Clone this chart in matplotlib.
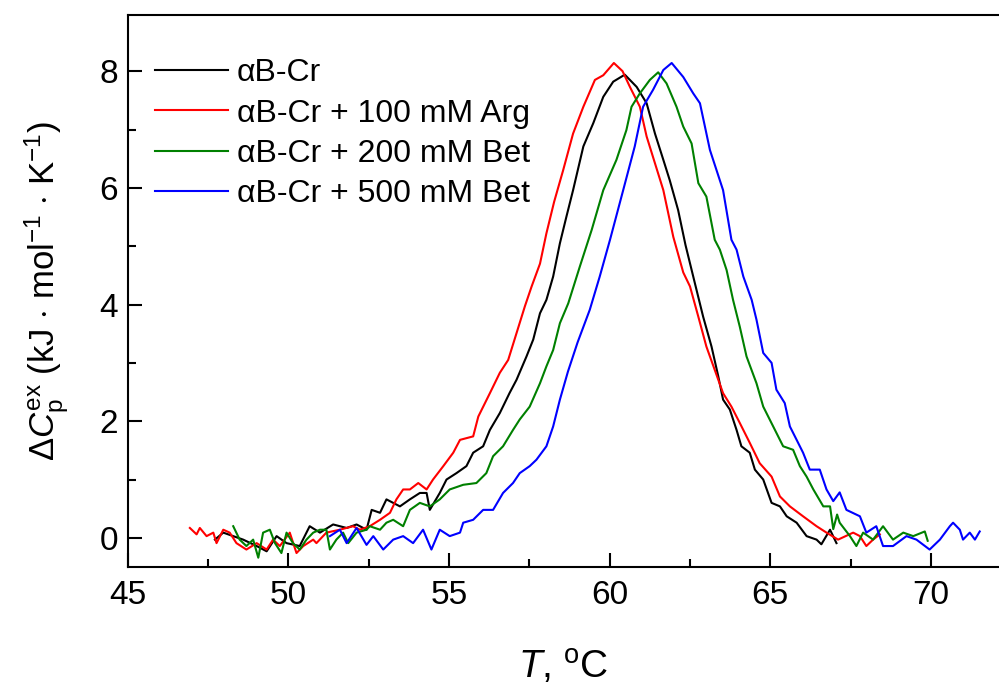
import matplotlib
matplotlib.use("Agg")
import matplotlib.pyplot as plt

# ---------------- data ----------------
black_T = [47.71, 47.97, 48.28, 48.59, 49.01, 49.32, 49.63, 49.94, 50.35, 50.66, 50.98, 51.39,
           51.81, 52.12, 52.43, 52.59, 52.85, 53.05, 53.47, 53.78, 54.09, 54.30, 54.40, 54.71,
           54.92, 55.23, 55.54, 55.75, 56.06, 56.27, 56.58, 56.88, 57.10, 57.41, 57.62, 57.83,
           58.03, 58.24, 58.45, 58.65, 58.86, 59.18, 59.49, 59.80, 60.11, 60.47, 60.84, 61.15,
           61.41, 61.67, 61.87, 62.13, 62.36, 62.65, 62.91, 63.17, 63.38, 63.53, 63.74, 63.95,
           64.10, 64.36, 64.52, 64.78, 65.04, 65.30, 65.51, 65.82, 66.13, 66.44, 66.59, 66.86,
           67.06]
black_dCp = [-0.03, 0.09, 0.03, -0.03, -0.14, -0.23, 0.03, -0.09, -0.14, 0.20, 0.09, 0.23,
             0.17, 0.23, 0.14, 0.48, 0.43, 0.66, 0.54, 0.66, 0.77, 0.77, 0.48, 0.77,
             1.00, 1.11, 1.23, 1.46, 1.57, 1.85, 2.14, 2.48, 2.71, 3.11, 3.40, 3.85,
             4.08, 4.48, 5.05, 5.50, 5.96, 6.71, 7.11, 7.56, 7.82, 7.94, 7.73, 7.45,
             6.93, 6.48, 6.13, 5.62, 5.02, 4.37, 3.79, 3.28, 2.77, 2.37, 2.20, 1.85,
             1.57, 1.46, 1.17, 1.00, 0.60, 0.54, 0.37, 0.26, 0.03, -0.03, -0.11, 0.14,
             -0.09]

red_T = [46.93, 47.14, 47.24, 47.45, 47.66, 47.76, 47.97, 48.17, 48.38, 48.69, 49.01, 49.32,
         49.52, 49.73, 50.04, 50.25, 50.46, 50.77, 50.87, 51.18, 51.60, 52.01, 52.22, 52.53,
         52.85, 53.16, 53.36, 53.57, 53.78, 54.04, 54.30, 54.50, 54.82, 55.13, 55.34, 55.75,
         55.91, 56.27, 56.58, 56.84, 57.10, 57.36, 57.57, 57.83, 58.03, 58.27, 58.55, 58.86,
         59.18, 59.54, 59.80, 60.13, 60.40, 60.63, 60.94, 61.15, 61.41, 61.67, 61.98, 62.29,
         62.50, 62.76, 63.01, 63.27, 63.53, 63.79, 64.05, 64.36, 64.67, 65.04, 65.30, 65.61,
         66.02, 66.44, 66.75, 67.11, 67.58, 67.79, 67.99, 68.20, 68.41]
red_dCp = [0.17, 0.06, 0.17, 0.03, 0.09, -0.09, 0.14, 0.09, -0.09, -0.20, -0.09, -0.20,
           -0.03, -0.14, 0.09, -0.26, -0.14, -0.03, -0.09, 0.09, 0.14, 0.20, 0.14, 0.20,
           0.31, 0.43, 0.66, 0.83, 0.83, 0.94, 0.83, 1.00, 1.23, 1.46, 1.68, 1.74,
           2.08, 2.48, 2.83, 3.05, 3.51, 3.97, 4.31, 4.70, 5.22, 5.76, 6.30, 6.93,
           7.39, 7.85, 7.93, 8.14, 8.00, 7.73, 7.39, 6.88, 6.42, 5.96, 5.16, 4.55,
           4.31, 3.79, 3.28, 2.88, 2.48, 2.25, 1.97, 1.63, 1.28, 1.05, 0.71, 0.54,
           0.37, 0.20, 0.09, -0.03, 0.09, 0.03, -0.14, -0.03, 0.06]

green_T = [48.28, 48.48, 48.69, 48.90, 49.06, 49.21, 49.42, 49.58, 49.78, 49.94, 50.14, 50.35,
           50.56, 50.77, 50.98, 51.18, 51.29, 51.49, 51.70, 51.86, 52.12, 52.43, 52.53, 52.85,
           53.05, 53.26, 53.57, 53.78, 54.09, 54.40, 54.71, 55.02, 55.44, 55.85, 56.16, 56.37,
           56.68, 56.99, 57.20, 57.51, 57.83, 58.03, 58.24, 58.45, 58.71, 59.07, 59.44, 59.80,
           60.21, 60.52, 60.68, 60.94, 61.25, 61.51, 61.77, 62.08, 62.29, 62.55, 62.76, 63.01,
           63.27, 63.43, 63.64, 63.84, 64.05, 64.26, 64.57, 64.78, 65.09, 65.40, 65.71, 65.92,
           66.13, 66.34, 66.65, 66.86, 66.96, 67.08, 67.16, 67.48, 67.68, 67.89, 68.20, 68.51,
           68.82, 69.14, 69.45, 69.81, 69.90]
green_dCp = [0.20, -0.03, -0.14, -0.03, -0.34, 0.09, 0.14, -0.09, -0.26, 0.09, -0.09, -0.20,
             -0.03, 0.09, 0.14, 0.14, -0.20, -0.03, 0.09, -0.09, 0.09, 0.14, 0.20, 0.14,
             0.26, 0.31, 0.20, 0.48, 0.60, 0.54, 0.66, 0.83, 0.91, 0.94, 1.11, 1.40,
             1.57, 1.85, 2.03, 2.25, 2.65, 2.94, 3.22, 3.68, 4.02, 4.65, 5.28, 5.96,
             6.48, 6.99, 7.39, 7.62, 7.85, 7.98, 7.79, 7.39, 7.05, 6.76, 6.08, 5.85,
             5.11, 4.94, 4.59, 4.08, 3.62, 3.11, 2.65, 2.25, 1.91, 1.57, 1.51, 1.23,
             1.05, 0.83, 0.54, 0.54, 0.15, 0.40, 0.26, 0.03, -0.14, 0.09, -0.03, 0.20,
             -0.03, 0.09, 0.03, 0.11, -0.05]

blue_T = [51.29, 51.60, 51.81, 52.12, 52.43, 52.64, 52.95, 53.26, 53.57, 53.88, 54.19, 54.45,
          54.71, 55.02, 55.34, 55.44, 55.75, 56.06, 56.37, 56.68, 56.99, 57.20, 57.51, 57.72,
          58.03, 58.24, 58.45, 58.70, 59.00, 59.38, 59.69, 60.01, 60.42, 60.78, 61.04, 61.35,
          61.67, 61.93, 62.29, 62.60, 62.81, 63.12, 63.53, 63.79, 63.95, 64.16, 64.42, 64.57,
          64.78, 65.04, 65.19, 65.45, 65.61, 65.82, 66.02, 66.23, 66.54, 66.75, 66.96, 67.16,
          67.37, 67.79, 67.99, 68.30, 68.51, 68.82, 69.24, 69.55, 69.96, 70.28, 70.59, 70.69,
          70.90, 71.00, 71.21, 71.37, 71.52]
blue_dCp = [0.03, 0.14, -0.09, 0.17, -0.12, 0.03, -0.20, -0.03, 0.03, -0.09, 0.14, -0.20,
            0.14, 0.03, 0.09, 0.26, 0.31, 0.48, 0.48, 0.77, 0.94, 1.11, 1.23, 1.34,
            1.57, 1.91, 2.37, 2.85, 3.35, 3.91, 4.48, 5.11, 5.96, 6.71, 7.39, 7.68,
            8.02, 8.14, 7.90, 7.62, 7.45, 6.65, 5.96, 5.11, 4.94, 4.48, 4.08, 3.74,
            3.17, 3.00, 2.54, 2.31, 1.91, 1.68, 1.46, 1.17, 1.17, 0.83, 0.63, 0.78,
            0.48, 0.37, 0.09, 0.20, -0.14, -0.14, 0.03, -0.03, -0.20, -0.03, 0.20, 0.26,
            0.14, -0.03, 0.09, -0.03, 0.11]

labels = ["\u03b1B-Cr", "\u03b1B-Cr + 100 mM Arg", "\u03b1B-Cr + 200 mM Bet", "\u03b1B-Cr + 500 mM Bet"]
colors = ["black", "red", "green", "blue"]

x_ticks = [45, 50, 55, 60, 65, 70]
y_ticks = [0, 2, 4, 6, 8]

# ---------------- style ----------------
plt.rcParams["font.family"] = ["Liberation Sans", "DejaVu Sans"]
plt.rcParams["mathtext.fontset"] = "custom"
plt.rcParams["mathtext.rm"] = "Liberation Sans"
plt.rcParams["mathtext.it"] = "Liberation Sans:italic"
plt.rcParams["mathtext.bf"] = "Liberation Sans:bold"

fig = plt.figure(figsize=(9.99, 6.89), dpi=100)
ax = fig.add_axes([0.128, 0.177, 0.872, 0.801])

series = [(black_T, black_dCp), (red_T, red_dCp), (green_T, green_dCp), (blue_T, blue_dCp)]
for (t, v), c, lab in zip(series, colors, labels):
    ax.plot(t, v, color=c, lw=1.5, label=lab)

ax.set_xlim(45, 72.12)
ax.set_ylim(-0.5, 8.96)
ax.set_xticks(x_ticks)
ax.set_yticks(y_ticks)
ax.set_xticks([47.5, 52.5, 57.5, 62.5, 67.5], minor=True)
ax.set_yticks([1, 3, 5, 7], minor=True)
ax.tick_params(which="major", direction="in", length=10, width=1.5, labelsize=24, pad=9)
ax.tick_params(which="minor", direction="in", length=6, width=1.5)
ax.tick_params(axis="y", which="major", pad=7)
ax.tick_params(top=False, right=False, which="both")
for s in ["left", "bottom", "top"]:
    ax.spines[s].set_linewidth(1.5)
ax.spines["right"].set_visible(False)

ax.set_xlabel(r"$T$, $^\mathrm{o}$C", fontsize=28, labelpad=27)
ax.set_ylabel(r"$\Delta C_\mathrm{p}^\mathrm{ex}$ (kJ $\cdot$ mol$^{-1}$ $\cdot$ K$^{-1}$)", fontsize=25, labelpad=20)

leg = ax.legend(loc="upper left", bbox_to_anchor=(0.016, 0.945), frameon=False, fontsize=23,
                handlelength=2.3, handletextpad=0.28, labelspacing=0.32, borderaxespad=0,
                borderpad=0.4)

fig.savefig("out.png", dpi=100)
